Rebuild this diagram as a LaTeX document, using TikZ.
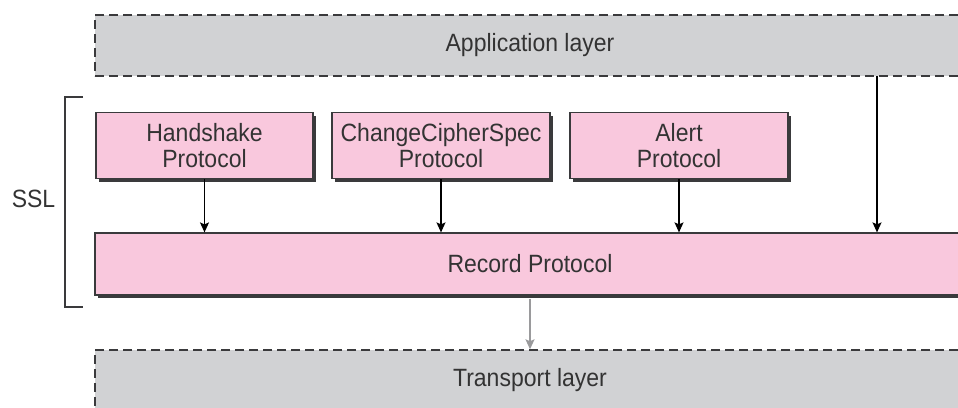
\documentclass[tikz,border=0pt]{standalone}
\usepackage{fontspec}
\setmainfont{Liberation Sans}[FakeStretch=0.92]
\usetikzlibrary{arrows.meta,shadows}
\definecolor{pinkfill}{HTML}{F9C8DD}
\definecolor{grayfill}{HTML}{D1D2D4}
\definecolor{edge}{HTML}{3A3A3C}
\definecolor{txt}{HTML}{333333}
\definecolor{garrow}{HTML}{9A9A9C}
\tikzset{
  lbl/.style={text=txt, font=\fontsize{25}{26}\selectfont},
  layerbox/.style={lbl, draw=edge, fill=grayfill, line width=1.4pt, dash pattern=on 9pt off 5pt,
    minimum width=870pt, minimum height=61pt, inner sep=0pt},
  protobox/.style={lbl, draw=edge, fill=pinkfill, line width=1.2pt, inner sep=0pt, align=center,
    general shadow={fill=edge, shadow xshift=3pt, shadow yshift=-3pt}},
  arr/.style={line width=1.3pt, draw=black, -{Stealth[length=10pt,width=9pt,inset=2pt]}},
  garr/.style={line width=1.6pt, draw=garrow, -{Stealth[length=10pt,width=9pt,inset=2pt]}},
}
\begin{document}
\begin{tikzpicture}[x=1pt,y=-1pt]
\useasboundingbox (0,0) rectangle (958,407);
\node[layerbox] (app) at (530,45.5) {Application layer};
\node[layerbox] (trans) at (530,380.5) {Transport layer};
\node[protobox, minimum width=217pt, minimum height=66pt] (hs) at (204.5,145.5) {Handshake\\Protocol};
\node[protobox, minimum width=218pt, minimum height=66pt] (ccs) at (441,145.5) {ChangeCipherSpec\\Protocol};
\node[protobox, minimum width=218pt, minimum height=66pt] (alert) at (679,145.5) {Alert\\Protocol};
\node[protobox, minimum width=870pt, minimum height=62pt] (rec) at (530,264) {Record Protocol};
\coordinate (appout) at (877,76);
\draw[arr] (hs.south) -- (hs.south |- rec.north);
\draw[arr] (ccs.south) -- (ccs.south |- rec.north);
\draw[arr] (alert.south) -- (alert.south |- rec.north);
\draw[arr] (appout) -- (appout |- rec.north);
\coordinate (recout) at ([yshift=-3pt]rec.south);
\draw[garr] (recout) -- (trans.north);
\node[lbl] (ssl) at (33.5,199) {SSL};
\draw[edge, line width=1.2pt] (83,97) -- (65,97) -- (65,307) -- (83,307);
\end{tikzpicture}
\end{document}
